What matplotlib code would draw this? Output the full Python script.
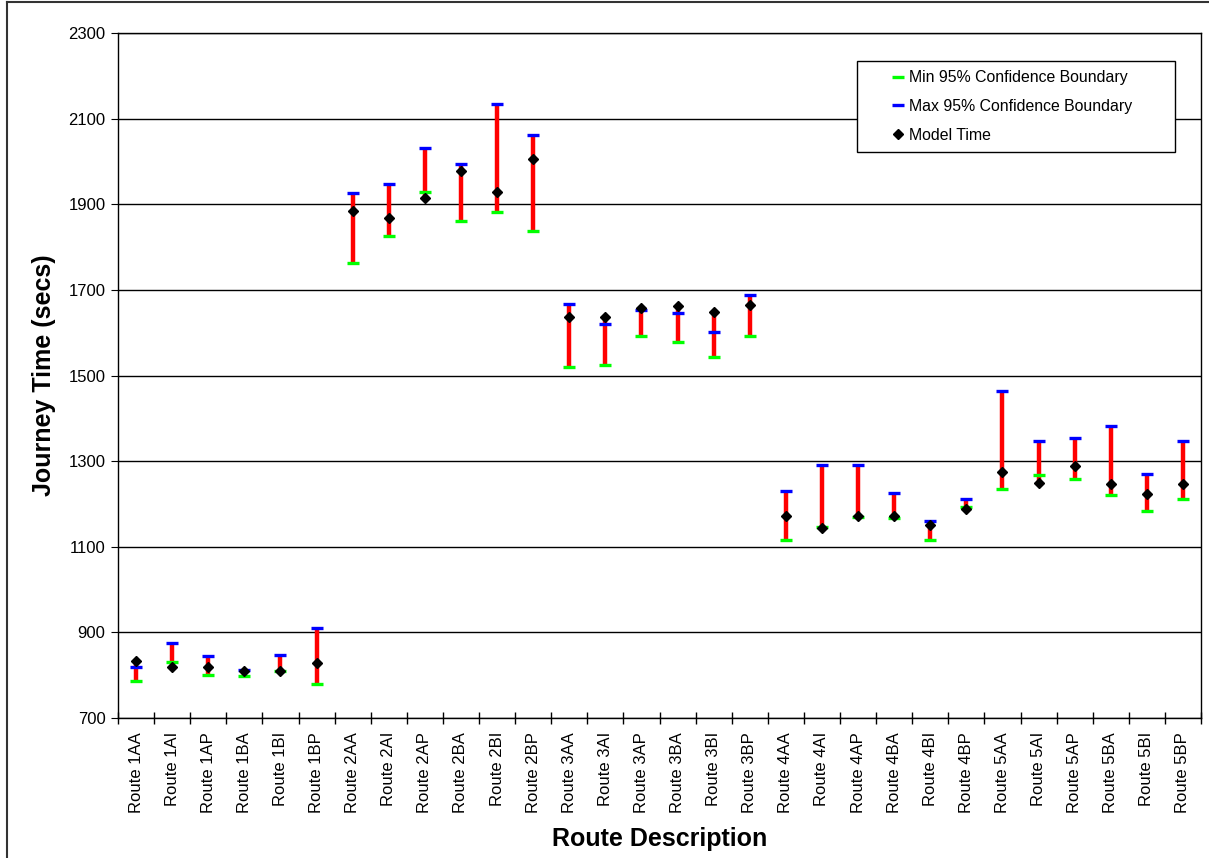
import matplotlib
matplotlib.use("Agg")
import matplotlib.pyplot as plt
from matplotlib.lines import Line2D
from matplotlib.patches import Rectangle
import numpy as np

plt.rcParams['font.family'] = ['Liberation Sans', 'DejaVu Sans']

# Data
routes = ['Route 1AA', 'Route 1AI', 'Route 1AP', 'Route 1BA', 'Route 1BI', 'Route 1BP',
          'Route 2AA', 'Route 2AI', 'Route 2AP', 'Route 2BA', 'Route 2BI', 'Route 2BP',
          'Route 3AA', 'Route 3AI', 'Route 3AP', 'Route 3BA', 'Route 3BI', 'Route 3BP',
          'Route 4AA', 'Route 4AI', 'Route 4AP', 'Route 4BA', 'Route 4BI', 'Route 4BP',
          'Route 5AA', 'Route 5AI', 'Route 5AP', 'Route 5BA', 'Route 5BI', 'Route 5BP']
min_ci = [787, 830, 801, 797, 809, 780,
          1762, 1827, 1929, 1862, 1883, 1837,
          1521, 1524, 1592, 1578, 1543, 1592,
          1116, 1145, 1169, 1166, 1116, 1193,
          1236, 1268, 1258, 1222, 1183, 1212]
max_ci = [819, 876, 844, 812, 848, 911,
          1926, 1947, 2032, 1993, 2135, 2061,
          1666, 1620, 1653, 1645, 1602, 1687,
          1230, 1290, 1290, 1226, 1159, 1211,
          1464, 1347, 1354, 1383, 1269, 1347]
model_time = [832, 818, 818, 810, 810, 828,
              1885, 1867, 1914, 1978, 1928, 2006,
              1636, 1637, 1658, 1662, 1648, 1665,
              1171, 1143, 1171, 1171, 1150, 1188,
              1274, 1249, 1288, 1246, 1224, 1246]
y_ticks = [700, 900, 1100, 1300, 1500, 1700, 1900, 2100, 2300]

x = np.arange(len(routes))
# red high-low line covers all three values
stack = np.array([min_ci, max_ci, model_time])
low = stack.min(axis=0)
high = stack.max(axis=0)

fig = plt.figure(figsize=(12.09, 8.58), dpi=100)
ax = fig.add_axes([118 / 1209, 1 - 718 / 858, (1201 - 118) / 1209, (718 - 33) / 858])

# outer chart border (left and top visible)
fig.add_artist(Line2D([7 / 1209, 7 / 1209], [0, 1 - 2 / 858], color='#333333', lw=1.5))
fig.add_artist(Line2D([7 / 1209, 1], [1 - 2 / 858, 1 - 2 / 858], color='#333333', lw=1.5))

ax.vlines(x, low, high, colors='#ff0000', lw=3.2, zorder=3)
ax.plot(x, min_ci, ls='none', marker='_', ms=8, mew=2.4, color='#00ff00', zorder=4,
        label='Min 95% Confidence Boundary')
ax.plot(x, max_ci, ls='none', marker='_', ms=8, mew=2.4, color='#0000ff', zorder=4,
        label='Max 95% Confidence Boundary')
ax.plot(x, model_time, ls='none', marker='D', ms=5.5, color='black', zorder=5,
        label='Model Time')

ax.set_xlim(-0.5, len(routes) - 0.5)
ax.set_ylim(700, 2300)
ax.set_yticks(y_ticks)
ax.yaxis.grid(True, color='black', lw=1)
ax.set_axisbelow(True)

ax.set_xticks(x)
ax.set_xticklabels(routes, rotation=90, fontsize=12)
ax.set_xticks(np.arange(len(routes) + 1) - 0.5, minor=True)
ax.tick_params(axis='x', which='major', length=0, pad=10)
ax.tick_params(axis='x', which='minor', direction='inout', length=8, width=1)
ax.tick_params(axis='y', direction='out', length=5, labelsize=12, pad=4)

for s in ax.spines.values():
    s.set_color('black')
    s.set_linewidth(1)

ax.set_xlabel('Route Description', fontsize=18, fontweight='bold', labelpad=10)
ax.set_ylabel('Journey Time (secs)', fontsize=18, fontweight='bold', labelpad=9)

# legend frame drawn separately so it can be wider than its text
ax.add_patch(Rectangle((0.6824, 0.8263), 0.2936, 0.1328, transform=ax.transAxes,
                       facecolor='white', edgecolor='black', lw=1, zorder=9, clip_on=False))
leg = ax.legend(loc='upper left', bbox_to_anchor=(0.7128, 0.9455), frameon=False,
                borderaxespad=0, borderpad=0, fontsize=11.4, labelspacing=0.86,
                handlelength=0.96, handletextpad=0.27, numpoints=1)
leg.set_zorder(10)

fig.savefig('out.png', dpi=100)
